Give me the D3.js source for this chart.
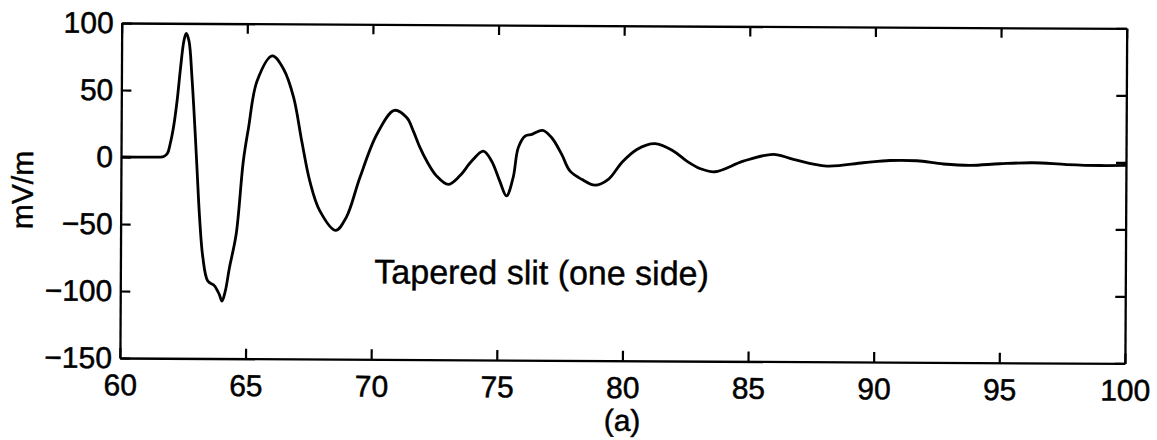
<!DOCTYPE html>
<html><head><meta charset="utf-8">
<script src="https://cdn.jsdelivr.net/npm/d3@7"></script>
<style>
html,body{margin:0;padding:0;background:#fff;}
text{font-family:"Liberation Sans",Arial,Helvetica,sans-serif;fill:#000;}
</style></head><body>
<svg id="c" width="1157" height="440"></svg>
<script>
// data
const times = [60,61.5,61.7,61.85,61.95,62.08,62.22,62.35,62.48,62.57,62.68,62.81,62.95,63.04,63.14,63.28,63.48,63.74,63.94,64.05,64.18,64.34,64.6,64.87,65.07,65.4,66.0,66.46,66.86,67.19,67.52,67.92,68.56,68.98,69.51,70.18,70.87,71.37,71.63,71.9,72.17,72.56,73.03,73.49,73.96,74.42,74.75,75.08,75.35,75.61,75.81,76.08,76.35,76.78,77.14,77.54,77.87,78.34,78.87,79.4,79.93,80.53,81.25,81.98,82.52,83.04,83.64,84.77,85.96,86.76,88.09,89.54,90.6,91.67,92.73,93.8,94.98,96.3,97.64,98.96,100];
const field = [0,0.1,0.5,3,9.5,22,42,66.6,87,92.5,87,59,17.3,-12.6,-44.7,-74.7,-92.2,-95.6,-102.1,-107.1,-99.6,-82.2,-57.2,-2.5,22.4,57.2,76,66,45,12.7,-17.3,-39.2,-53.9,-44.1,-14.5,18,35.9,30.4,20.5,8.2,-1.8,-12.8,-19.1,-12.7,-1.6,5.9,-1.5,-16.5,-27.5,-13.9,8.6,17.3,18.6,21.6,16.1,3.7,-8.6,-14.8,-19.1,-14.7,-2.2,7.7,12.1,6.7,-0.8,-6.2,-8.6,-0.6,4.6,1,-3.9,-1.3,0.5,0.4,-1.9,-2.8,-1.5,-0.6,-1.8,-2.4,-2.2];
const xTicks = [60,65,70,75,80,85,90,95,100];
const yTicks = [-150,-100,-50,0,50,100];
const yLabel = "mV/m";
const xLabel = "(a)";
const note = "Tapered slit (one side)";

const L=121, R=1126, T=23, B=358;
const svg = d3.select("#c");
const g = svg.append("g").attr("transform","rotate(0.31,121,156)");
const x = d3.scaleLinear().domain([60,100]).range([L,R]);
const y = d3.scaleLinear().domain([-150,100]).range([B,T]);
const fs = 30;
const ff = '"Liberation Sans",Arial,Helvetica,sans-serif';

function style(sel){
  sel.selectAll("path.domain").attr("stroke","#000").attr("stroke-width",2.3);
  sel.selectAll(".tick line").attr("stroke","#000").attr("stroke-width",2.2);
  sel.selectAll("text").attr("font-size",fs).attr("fill","#000").attr("font-family",ff)
     .attr("stroke","#000").attr("stroke-width",0.5);
}
g.append("g").attr("transform",`translate(0,${B})`)
  .call(d3.axisBottom(x).tickValues(xTicks).tickSizeInner(-10).tickSizeOuter(0).tickPadding(16).tickFormat(d3.format("d")))
  .call(style);
g.append("g").attr("transform",`translate(0,${T})`)
  .call(d3.axisTop(x).tickValues(xTicks).tickSizeInner(-10).tickSizeOuter(0).tickFormat(""))
  .call(style);
g.append("g").attr("transform",`translate(${L},0)`)
  .call(d3.axisLeft(y).tickValues(yTicks).tickSizeInner(-10).tickSizeOuter(0).tickPadding(8).tickFormat(d3.format("d")))
  .call(style);
g.append("g").attr("transform",`translate(${R},0)`)
  .call(d3.axisRight(y).tickValues(yTicks).tickSizeInner(-10).tickSizeOuter(0).tickFormat(""))
  .call(style);

const pts = times.map((t,i)=>[t,field[i]]);
const line = d3.line().x(d=>x(d[0])).y(d=>y(d[1])).curve(d3.curveCatmullRom.alpha(0.5));
g.append("path").attr("d",line(pts)).attr("fill","none").attr("stroke","#000")
  .attr("stroke-width",2.8).attr("stroke-linejoin","round");

g.append("text").attr("x",(L+R)/2).attr("y",428).attr("text-anchor","middle")
  .attr("font-size",fs).attr("stroke","#000").attr("stroke-width",0.5).text(xLabel);
g.append("text").attr("transform",`translate(33,${(T+B)/2}) rotate(-90)`)
  .attr("text-anchor","middle").attr("font-size",fs).attr("stroke","#000").attr("stroke-width",0.5).text(yLabel);
g.append("text").attr("x",375).attr("y",282).attr("font-size",34).attr("stroke","#000").attr("stroke-width",0.4).text(note);
</script>
</body></html>
